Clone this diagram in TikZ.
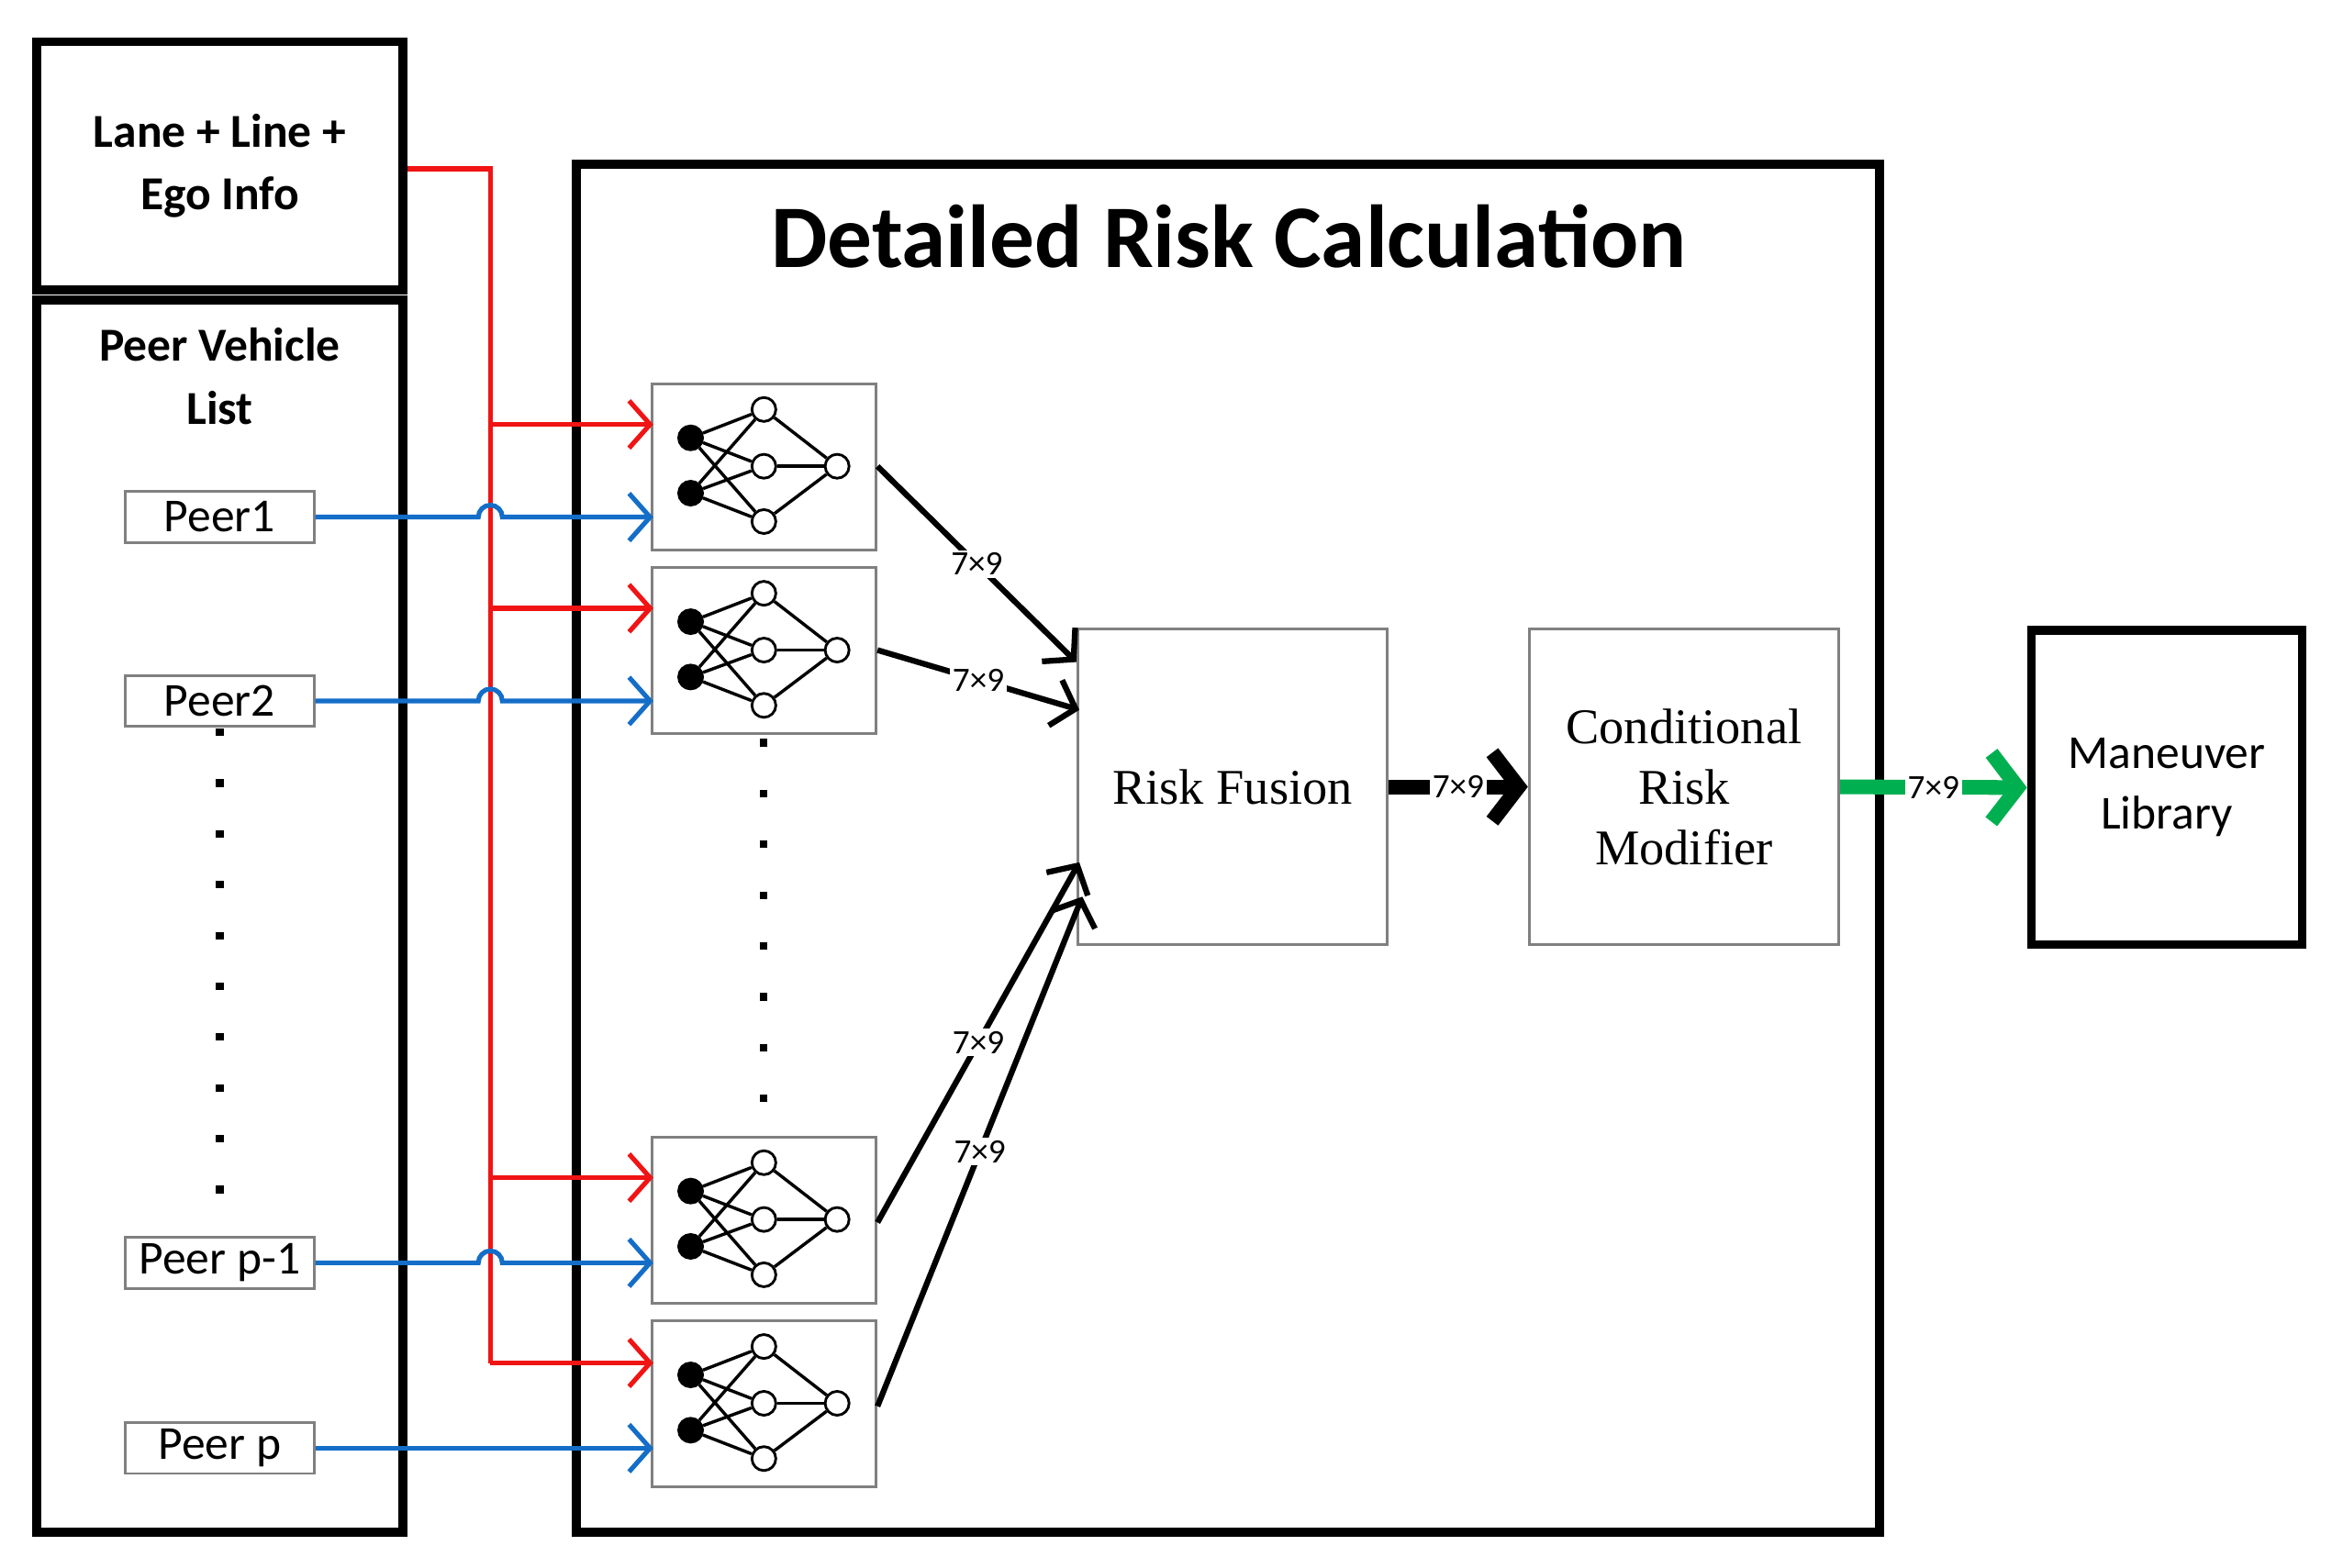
\documentclass[tikz,border=0pt]{standalone}
\usepackage{fontspec}
\setmainfont{Carlito}
\newfontfamily\serifF{Liberation Serif}
\usetikzlibrary{arrows.meta}
\definecolor{rd}{RGB}{240,20,20}
\definecolor{bl}{RGB}{20,110,200}
\definecolor{gr}{RGB}{0,176,80}
\begin{document}
\begin{tikzpicture}[x=0.01cm,y=-0.01cm,
 thickbox/.style={draw,line width=1.7pt},
 thin/.style={draw=gray,line width=0.5pt},
 peer/.style={draw=gray,line width=0.5pt,minimum width=1.26cm,minimum height=0.34cm,inner sep=0,font=\fontsize{9pt}{10pt}\selectfont},
 bla/.style={bl,line width=0.9pt,-{Straight Barb[length=4pt,width=9pt]}},
 ra/.style={rd,line width=0.9pt,-{Straight Barb[length=4pt,width=9pt]}},
 ka/.style={line width=1.1pt,-{Straight Barb[length=4pt,width=9pt]}},
 lab/.style={font=\fontsize{6.5pt}{7pt}\selectfont,fill=white,inner sep=0.5pt},
 neu/.style={circle,draw,line width=0.5pt,minimum size=0.16cm,inner sep=0},
 dot/.style={fill,minimum size=0.05cm,inner sep=0}]
\useasboundingbox (0,0) rectangle (1560,1049);
% left boxes
\node[thickbox,minimum width=2.45cm,minimum height=1.66cm,inner sep=0,align=center,font=\bfseries\fontsize{9pt}{12pt}\selectfont] (lane) at (147,111) {Lane + Line +\\Ego Info};
\node[thickbox,minimum width=2.45cm,minimum height=8.24cm,inner sep=0] (list) at (147,613) {};
\node[align=center,font=\bfseries\fontsize{9pt}{12pt}\selectfont] (plt) at (147,252) {Peer Vehicle\\List};
\node[peer] (p1) at (147,346) {Peer1};
\node[peer] (p2) at (147,469) {Peer2};
\node[peer] (p3) at (147,845) {Peer p-1};
\node[peer] (p4) at (147,969) {Peer p};
\foreach \y in {490,524,...,800} \node[dot] at (147,\y) {};
% main box
\node[thickbox,minimum width=8.71cm,minimum height=9.15cm,inner sep=0] (main) at (821.5,567.5) {};
\node[font=\bfseries\fontsize{17pt}{20pt}\selectfont] (title) at (822,158) {Detailed Risk Calculation};
% NN boxes
\foreach \i/\t in {1/256,2/379,3/760,4/883}{
 \node[thin,minimum width=1.5cm,minimum height=1.11cm,inner sep=0] (nn\i) at (511,\t+56.5) {};
 \node[neu,fill=black] (a\i) at (462,\t+37) {};
 \node[neu,fill=black] (b\i) at (462,\t+74) {};
 \node[neu] (h\i1) at (511,\t+18) {};
 \node[neu] (h\i2) at (511,\t+56) {};
 \node[neu] (h\i3) at (511,\t+93) {};
 \node[neu] (o\i) at (560,\t+56) {};
 \foreach \h in {1,2,3}{\draw[line width=0.6pt] (a\i)--(h\i\h); \draw[line width=0.6pt] (b\i)--(h\i\h); \draw[line width=0.6pt] (h\i\h)--(o\i);}
}
\foreach \y in {497,531,...,740} \node[dot] at (511,\y) {};
% red lines
\coordinate (rt) at (328,113);
\coordinate (rb) at (328,912);
\draw[rd,line width=0.9pt] (lane.east|-rt) -- (rt) -- (rb);
\foreach \y in {284,407,788} \draw[ra] (328,\y) -- (437,\y);
\draw[ra] (rb) -- (437,912);
% blue lines with hops
\foreach \i/\y in {1/346,2/469,3/845}{
 \draw[bla] (p\i.east) -- (320,\y) arc[start angle=180,end angle=360,radius=8] -- (437,\y);}
\draw[bla] (p4.east) -- (437,969);
% fusion and modifier
\node[thin,minimum width=2.07cm,minimum height=2.11cm,inner sep=0,font=\serifF\fontsize{9.5pt}{12pt}\selectfont] (rf) at (824.5,526.5) {Risk Fusion};
\node[thin,minimum width=2.07cm,minimum height=2.11cm,inner sep=0,align=center,font=\serifF\fontsize{9.5pt}{11.5pt}\selectfont] (crm) at (1126.5,526.5) {Conditional\\Risk\\Modifier};
\node[thickbox,minimum width=1.81cm,minimum height=2.1cm,inner sep=0,align=center,font=\fontsize{9pt}{11.5pt}\selectfont] (ml) at (1449.5,527) {Maneuver\\Library};
\coordinate (t1) at (720,443);
\coordinate (t2) at (722,475);
\coordinate (t3) at (722,577);
\coordinate (t4) at (724,600);
\coordinate (s1) at (587,312);
\coordinate (s2) at (587,435);
\coordinate (s3) at (587,818);
\coordinate (s4) at (587,941);
\draw[ka] (s1) -- node[lab,pos=0.5] {7×9} (t1);
\draw[ka] (s2) -- node[lab,pos=0.5] {7×9} (t2);
\draw[ka] (s3) -- node[lab,pos=0.5] {7×9} (t3);
\draw[ka] (s4) -- node[lab,pos=0.5] {7×9} (t4);
\draw[line width=2.8pt,-{Straight Barb[length=5pt,width=13pt]}] (rf.east) -- node[lab] {7×9} (crm.west);
\draw[gr,line width=2.8pt,-{Straight Barb[length=5pt,width=13pt]}] (crm.east) -- node[lab,text=black] {7×9} (ml.west);
\end{tikzpicture}
\end{document}
